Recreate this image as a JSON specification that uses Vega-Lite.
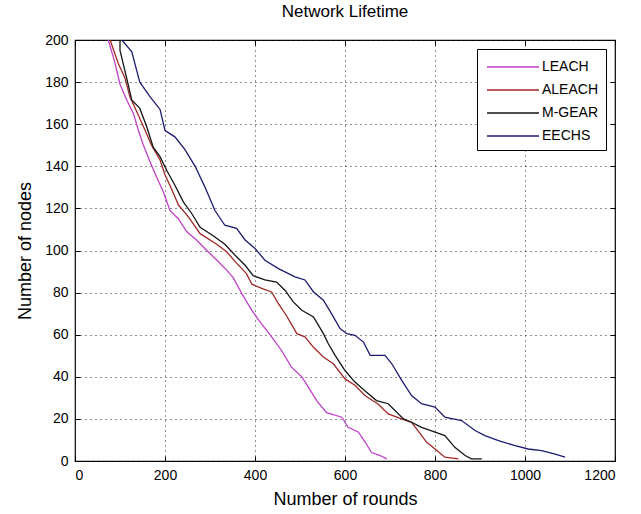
{
  "$schema": "https://vega.github.io/schema/vega-lite/v6.json",
  "width": 540,
  "height": 421,
  "autosize": {"type": "none"},
  "padding": {"left": 75, "top": 40, "right": 26, "bottom": 53},
  "background": "white",
  "title": {"text": "Network Lifetime", "fontSize": 17, "font": "Liberation Sans", "fontWeight": "normal", "color": "black", "offset": 12, "anchor": "middle"},
  "config": {
    "view": {"stroke": "black", "strokeWidth": 1.2},
    "font": "Liberation Sans",
    "axis": {"domain": false, "labelFont": "Liberation Sans", "labelFontSize": 14, "labelColor": "black", "titleFont": "Liberation Sans", "titleFontSize": 18, "titleFontWeight": "normal", "titleColor": "black", "gridColor": "#222", "gridDash": [1, 4], "gridOpacity": 1, "gridWidth": 1, "tickColor": "black", "tickSize": -5, "tickWidth": 1, "labelPadding": 12},
    "legend": {"orient": "top-right", "offset": 9, "fillColor": "white", "strokeColor": "black", "padding": 7, "symbolType": "M-2.6,0H2.6", "symbolSize": 400, "symbolOffset": 18, "symbolStrokeWidth": 1.5, "labelFontSize": 14, "labelFont": "Liberation Sans", "labelColor": "black", "rowPadding": 5, "labelOffset": 18, "cornerRadius": 0}
  },
  "data": {"values": [
    {"series":"LEACH","rounds":74,"nodes":200},{"series":"LEACH","rounds":89,"nodes":189},{"series":"LEACH","rounds":100,"nodes":179},{"series":"LEACH","rounds":115,"nodes":171.5},{"series":"LEACH","rounds":130,"nodes":165},{"series":"LEACH","rounds":141,"nodes":157},{"series":"LEACH","rounds":152,"nodes":150},{"series":"LEACH","rounds":167,"nodes":142},{"series":"LEACH","rounds":181,"nodes":135},{"series":"LEACH","rounds":196,"nodes":128},{"series":"LEACH","rounds":211,"nodes":119},{"series":"LEACH","rounds":230,"nodes":115},{"series":"LEACH","rounds":248,"nodes":109},{"series":"LEACH","rounds":270,"nodes":105},{"series":"LEACH","rounds":293,"nodes":100},{"series":"LEACH","rounds":315,"nodes":95.5},{"series":"LEACH","rounds":337,"nodes":90.7},{"series":"LEACH","rounds":352,"nodes":87},{"series":"LEACH","rounds":372,"nodes":79},{"series":"LEACH","rounds":393,"nodes":71.6},{"series":"LEACH","rounds":415,"nodes":65},{"series":"LEACH","rounds":437,"nodes":59},{"series":"LEACH","rounds":459,"nodes":52.5},{"series":"LEACH","rounds":481,"nodes":44.6},{"series":"LEACH","rounds":504,"nodes":40},{"series":"LEACH","rounds":519,"nodes":35},{"series":"LEACH","rounds":537,"nodes":28.7},{"series":"LEACH","rounds":559,"nodes":23},{"series":"LEACH","rounds":593,"nodes":20.8},{"series":"LEACH","rounds":607,"nodes":16},{"series":"LEACH","rounds":630,"nodes":13.7},{"series":"LEACH","rounds":645,"nodes":8.9},{"series":"LEACH","rounds":659,"nodes":4},{"series":"LEACH","rounds":678,"nodes":2.6},{"series":"LEACH","rounds":693,"nodes":1},
    {"series":"ALEACH","rounds":78,"nodes":200},{"series":"ALEACH","rounds":96,"nodes":189},{"series":"ALEACH","rounds":111,"nodes":182},{"series":"ALEACH","rounds":122,"nodes":173},{"series":"ALEACH","rounds":137,"nodes":166},{"series":"ALEACH","rounds":156,"nodes":157},{"series":"ALEACH","rounds":170,"nodes":150},{"series":"ALEACH","rounds":189,"nodes":143},{"series":"ALEACH","rounds":200,"nodes":136},{"series":"ALEACH","rounds":215,"nodes":129},{"series":"ALEACH","rounds":230,"nodes":121.6},{"series":"ALEACH","rounds":252,"nodes":116},{"series":"ALEACH","rounds":278,"nodes":108},{"series":"ALEACH","rounds":315,"nodes":103},{"series":"ALEACH","rounds":337,"nodes":99.4},{"series":"ALEACH","rounds":359,"nodes":94},{"series":"ALEACH","rounds":381,"nodes":89},{"series":"ALEACH","rounds":393,"nodes":84},{"series":"ALEACH","rounds":415,"nodes":82},{"series":"ALEACH","rounds":437,"nodes":80.3},{"series":"ALEACH","rounds":452,"nodes":74.8},{"series":"ALEACH","rounds":470,"nodes":69},{"series":"ALEACH","rounds":493,"nodes":60.5},{"series":"ALEACH","rounds":511,"nodes":59},{"series":"ALEACH","rounds":530,"nodes":54},{"series":"ALEACH","rounds":552,"nodes":49.4},{"series":"ALEACH","rounds":574,"nodes":46.2},{"series":"ALEACH","rounds":600,"nodes":39},{"series":"ALEACH","rounds":622,"nodes":36},{"series":"ALEACH","rounds":645,"nodes":31},{"series":"ALEACH","rounds":674,"nodes":27},{"series":"ALEACH","rounds":696,"nodes":22.4},{"series":"ALEACH","rounds":726,"nodes":20},{"series":"ALEACH","rounds":748,"nodes":18.4},{"series":"ALEACH","rounds":767,"nodes":13},{"series":"ALEACH","rounds":781,"nodes":9},{"series":"ALEACH","rounds":800,"nodes":5.7},{"series":"ALEACH","rounds":822,"nodes":1.8},{"series":"ALEACH","rounds":852,"nodes":1},
    {"series":"M-GEAR","rounds":89,"nodes":200},{"series":"M-GEAR","rounds":100,"nodes":200},{"series":"M-GEAR","rounds":100,"nodes":195},{"series":"M-GEAR","rounds":118,"nodes":179},{"series":"M-GEAR","rounds":126,"nodes":171.5},{"series":"M-GEAR","rounds":144,"nodes":167.5},{"series":"M-GEAR","rounds":159,"nodes":159},{"series":"M-GEAR","rounds":174,"nodes":149},{"series":"M-GEAR","rounds":189,"nodes":144.6},{"series":"M-GEAR","rounds":204,"nodes":138},{"series":"M-GEAR","rounds":222,"nodes":131},{"series":"M-GEAR","rounds":241,"nodes":123},{"series":"M-GEAR","rounds":259,"nodes":117.7},{"series":"M-GEAR","rounds":278,"nodes":111},{"series":"M-GEAR","rounds":307,"nodes":107},{"series":"M-GEAR","rounds":333,"nodes":103},{"series":"M-GEAR","rounds":359,"nodes":97},{"series":"M-GEAR","rounds":378,"nodes":93},{"series":"M-GEAR","rounds":396,"nodes":88},{"series":"M-GEAR","rounds":422,"nodes":86},{"series":"M-GEAR","rounds":448,"nodes":85},{"series":"M-GEAR","rounds":467,"nodes":81},{"series":"M-GEAR","rounds":485,"nodes":75.6},{"series":"M-GEAR","rounds":504,"nodes":71.6},{"series":"M-GEAR","rounds":530,"nodes":68.4},{"series":"M-GEAR","rounds":552,"nodes":60.5},{"series":"M-GEAR","rounds":563,"nodes":55.7},{"series":"M-GEAR","rounds":578,"nodes":50.2},{"series":"M-GEAR","rounds":600,"nodes":43},{"series":"M-GEAR","rounds":622,"nodes":37.5},{"series":"M-GEAR","rounds":648,"nodes":32.7},{"series":"M-GEAR","rounds":670,"nodes":28.7},{"series":"M-GEAR","rounds":696,"nodes":27.2},{"series":"M-GEAR","rounds":730,"nodes":20},{"series":"M-GEAR","rounds":748,"nodes":18.4},{"series":"M-GEAR","rounds":770,"nodes":16},{"series":"M-GEAR","rounds":800,"nodes":13.7},{"series":"M-GEAR","rounds":822,"nodes":12.1},{"series":"M-GEAR","rounds":844,"nodes":6.5},{"series":"M-GEAR","rounds":867,"nodes":2.6},{"series":"M-GEAR","rounds":881,"nodes":1},{"series":"M-GEAR","rounds":904,"nodes":1},
    {"series":"EECHS","rounds":104,"nodes":200},{"series":"EECHS","rounds":126,"nodes":194.5},{"series":"EECHS","rounds":144,"nodes":180},{"series":"EECHS","rounds":167,"nodes":173},{"series":"EECHS","rounds":189,"nodes":167},{"series":"EECHS","rounds":200,"nodes":157},{"series":"EECHS","rounds":222,"nodes":154},{"series":"EECHS","rounds":244,"nodes":148},{"series":"EECHS","rounds":267,"nodes":140},{"series":"EECHS","rounds":289,"nodes":130},{"series":"EECHS","rounds":311,"nodes":119},{"series":"EECHS","rounds":333,"nodes":112},{"series":"EECHS","rounds":359,"nodes":110.5},{"series":"EECHS","rounds":378,"nodes":105},{"series":"EECHS","rounds":400,"nodes":101},{"series":"EECHS","rounds":422,"nodes":95.4},{"series":"EECHS","rounds":452,"nodes":91.4},{"series":"EECHS","rounds":489,"nodes":87.5},{"series":"EECHS","rounds":511,"nodes":86},{"series":"EECHS","rounds":530,"nodes":80.3},{"series":"EECHS","rounds":552,"nodes":76.4},{"series":"EECHS","rounds":570,"nodes":70},{"series":"EECHS","rounds":589,"nodes":62.9},{"series":"EECHS","rounds":604,"nodes":60.5},{"series":"EECHS","rounds":622,"nodes":59.7},{"series":"EECHS","rounds":641,"nodes":56.5},{"series":"EECHS","rounds":656,"nodes":50.2},{"series":"EECHS","rounds":689,"nodes":50.2},{"series":"EECHS","rounds":704,"nodes":46.2},{"series":"EECHS","rounds":726,"nodes":38.3},{"series":"EECHS","rounds":748,"nodes":31.1},{"series":"EECHS","rounds":770,"nodes":27.2},{"series":"EECHS","rounds":800,"nodes":25.6},{"series":"EECHS","rounds":822,"nodes":20.8},{"series":"EECHS","rounds":859,"nodes":19.2},{"series":"EECHS","rounds":889,"nodes":14.5},{"series":"EECHS","rounds":911,"nodes":12.1},{"series":"EECHS","rounds":941,"nodes":9.7},{"series":"EECHS","rounds":978,"nodes":7.3},{"series":"EECHS","rounds":1007,"nodes":5.7},{"series":"EECHS","rounds":1037,"nodes":4.9},{"series":"EECHS","rounds":1067,"nodes":3.3},{"series":"EECHS","rounds":1089,"nodes":1.8}
  ]},
  "layer": [
    {
      "mark": {"type": "line", "strokeWidth": 1.3, "clip": true},
      "encoding": {
        "x": {"field": "rounds", "type": "quantitative", "scale": {"domain": [0, 1200], "nice": false}, "axis": {"title": "Number of rounds", "format": "d", "values": [0, 200, 400, 600, 800, 1000, 1200], "grid": true, "orient": "bottom", "titlePadding": 8}},
        "y": {"field": "nodes", "type": "quantitative", "scale": {"domain": [0, 200], "nice": false}, "axis": {"title": "Number of nodes", "values": [0, 20, 40, 60, 80, 100, 120, 140, 160, 180, 200], "grid": true, "orient": "left", "titlePadding": 10}},
        "color": {"field": "series", "type": "nominal", "scale": {"domain": ["LEACH", "ALEACH", "M-GEAR", "EECHS"], "range": ["#c040c8", "#a02828", "#151515", "#1c1c70"]}, "legend": {"title": null}},
        "order": {"field": "rounds", "type": "quantitative"}
      }
    },
    {
      "mark": {"type": "line", "opacity": 0},
      "encoding": {
        "x": {"field": "rounds", "type": "quantitative", "axis": {"orient": "top", "labels": false, "title": null, "grid": false, "values": [0, 200, 400, 600, 800, 1000, 1200]}},
        "y": {"field": "nodes", "type": "quantitative", "axis": {"orient": "right", "labels": false, "title": null, "grid": false, "values": [0, 20, 40, 60, 80, 100, 120, 140, 160, 180, 200]}},
        "detail": {"field": "series", "type": "nominal"}
      }
    }
  ],
  "resolve": {"axis": {"x": "independent", "y": "independent"}}
}
